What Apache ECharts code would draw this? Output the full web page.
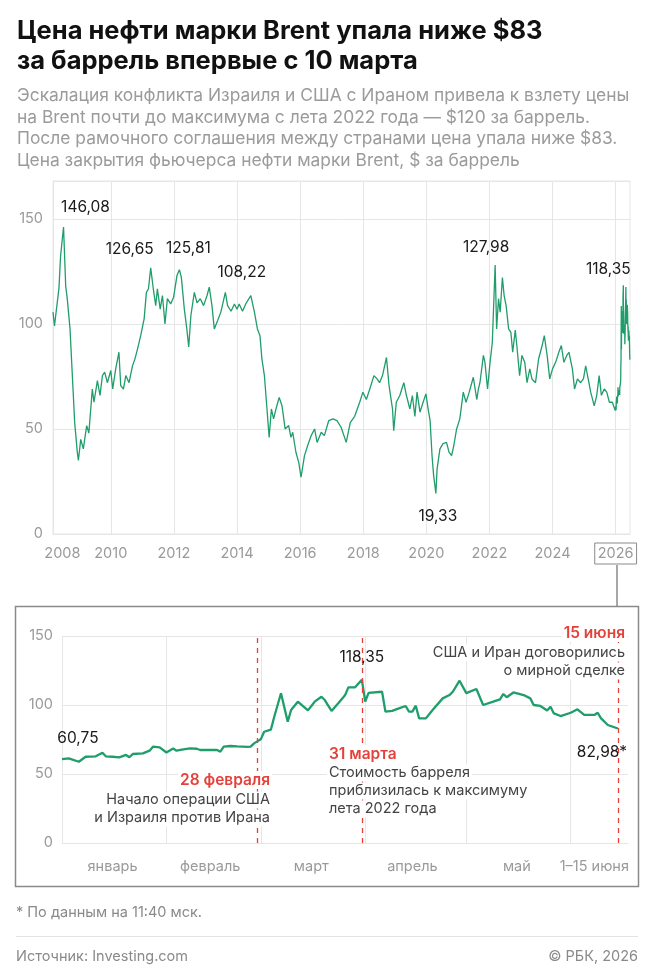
<!DOCTYPE html>
<html>
<head>
<meta charset="utf-8">
<title>Brent</title>
<script src="https://cdn.jsdelivr.net/npm/echarts@6/dist/echarts.min.js"></script>
<style>
html, body { margin: 0; padding: 0; background: #fff; }
#chart { width: 654px; height: 977px; }
</style>
</head>
<body>
<div id="chart"></div>
<script>
// Brent close, $ per barrel, 2008-2025
var brentHistory = [
    ['2008-03-03', 105.6], ['2008-03-20', 99], ['2008-05-11', 117], ['2008-05-30', 132.5],
    ['2008-07-03', 146.08], ['2008-07-28', 118], ['2008-08-15', 112], ['2008-09-16', 97.6],
    ['2008-10-11', 77], ['2008-11-09', 53], ['2008-12-09', 39], ['2008-12-22', 35],
    ['2009-01-18', 45], ['2009-02-17', 40.5], ['2009-03-28', 51.6], ['2009-04-22', 48],
    ['2009-06-01', 69], ['2009-06-20', 62.7], ['2009-07-30', 73], ['2009-08-29', 66],
    ['2009-09-26', 75.4], ['2009-10-22', 77], ['2009-11-22', 72], ['2010-01-01', 77.8],
    ['2010-01-23', 69], ['2010-02-27', 78.6], ['2010-04-05', 86.5], ['2010-04-26', 70.6],
    ['2010-05-27', 69], ['2010-06-24', 75.4], ['2010-07-31', 72], ['2010-09-09', 80],
    ['2010-10-05', 83], ['2010-11-06', 88], ['2010-12-13', 94.4], ['2011-01-22', 102.4],
    ['2011-02-17', 115], ['2011-03-13', 116.7], ['2011-04-08', 126.65], ['2011-05-08', 116.7],
    ['2011-06-05', 108.7], ['2011-06-24', 116.7], ['2011-07-27', 107], ['2011-08-22', 113.5],
    ['2011-09-20', 100], ['2011-10-18', 112], ['2011-11-25', 109.5], ['2011-12-29', 112.7],
    ['2012-02-06', 123], ['2012-03-05', 125.81], ['2012-03-28', 122], ['2012-05-01', 107],
    ['2012-05-30', 97.6], ['2012-06-21', 89], ['2012-07-16', 104], ['2012-08-25', 115],
    ['2012-09-25', 110], ['2012-11-02', 112], ['2012-12-10', 108.7], ['2013-01-19', 113.5],
    ['2013-02-14', 117.5], ['2013-03-17', 108.7], ['2013-04-13', 97.6], ['2013-05-22', 101.6],
    ['2013-06-28', 105.6], ['2013-08-19', 115], ['2013-09-14', 108.7], ['2013-10-24', 106],
    ['2013-12-02', 109.5], ['2014-01-01', 107], ['2014-01-26', 109.5], ['2014-03-06', 106],
    ['2014-04-12', 109.5], ['2014-06-10', 113.5], ['2014-07-20', 106], ['2014-08-25', 97.6],
    ['2014-09-24', 94.4], ['2014-10-16', 83.3], ['2014-11-14', 75.4], ['2014-12-14', 59.5],
    ['2015-01-08', 46], ['2015-02-03', 59.5], ['2015-02-28', 54.8], ['2015-03-28', 59.5],
    ['2015-05-04', 65], ['2015-06-06', 61], ['2015-07-12', 50], ['2015-08-22', 51.6],
    ['2015-09-17', 46], ['2015-10-08', 48.4], ['2015-11-14', 38.9], ['2015-12-17', 34],
    ['2016-01-12', 27], ['2016-02-21', 37.3], ['2016-03-28', 42], ['2016-05-08', 46.8],
    ['2016-06-17', 50], ['2016-07-16', 43.6], ['2016-09-02', 48.4], ['2016-10-08', 46.8],
    ['2016-11-28', 54], ['2017-01-16', 54.8], ['2017-03-03', 54], ['2017-04-20', 50.8],
    ['2017-06-18', 43.6], ['2017-08-04', 53], ['2017-09-24', 56], ['2017-11-21', 62.7],
    ['2017-12-28', 67.5], ['2018-02-06', 64], ['2018-03-18', 69], ['2018-05-05', 75.4],
    ['2018-06-10', 73.8], ['2018-07-09', 72], ['2018-08-12', 75.4], ['2018-09-27', 84],
    ['2018-10-27', 70.6], ['2018-12-06', 59.5], ['2018-12-20', 49.2], ['2019-01-19', 62.7],
    ['2019-02-28', 65.9], ['2019-04-16', 72], ['2019-05-16', 65.9], ['2019-06-25', 59.5],
    ['2019-07-24', 65.9], ['2019-08-22', 56], ['2019-09-16', 67.5], ['2019-10-20', 58],
    ['2019-11-25', 62.7], ['2019-12-28', 66.7], ['2020-01-22', 59.5], ['2020-02-14', 54],
    ['2020-03-08', 37], ['2020-03-26', 27.8], ['2020-04-21', 19.33], ['2020-05-05', 31],
    ['2020-06-07', 40.5], ['2020-07-13', 43], ['2020-08-22', 43.6], ['2020-09-20', 39],
    ['2020-10-20', 37.3], ['2020-11-14', 42], ['2020-12-17', 50], ['2021-01-23', 54.8],
    ['2021-03-04', 67.5], ['2021-04-05', 62.7], ['2021-05-12', 67.5], ['2021-06-28', 74.6],
    ['2021-08-08', 64], ['2021-08-26', 69], ['2021-09-13', 72], ['2021-10-23', 85],
    ['2021-11-10', 81.7], ['2021-12-10', 69], ['2022-01-08', 81.7], ['2022-02-03', 91],
    ['2022-03-08', 127.98], ['2022-03-25', 97.6], ['2022-04-16', 112], ['2022-05-05', 105.6],
    ['2022-05-31', 122], ['2022-06-20', 113.5], ['2022-07-13', 108.7], ['2022-08-11', 97.6],
    ['2022-09-06', 96], ['2022-09-27', 86.5], ['2022-10-27', 97], ['2022-11-14', 89.7],
    ['2022-12-16', 75.4], ['2023-01-12', 85], ['2023-02-14', 81.7], ['2023-03-12', 72],
    ['2023-04-13', 78.6], ['2023-05-08', 73.8], ['2023-06-18', 72], ['2023-07-24', 83.3],
    ['2023-09-03', 89.7], ['2023-09-28', 94.4], ['2023-10-31', 85], ['2023-11-30', 73.8],
    ['2024-01-01', 78.6], ['2024-02-06', 81.7], ['2024-03-14', 86.5], ['2024-04-12', 89.7],
    ['2024-05-12', 81.7], ['2024-06-14', 85], ['2024-07-09', 86.5], ['2024-08-18', 78.6],
    ['2024-09-12', 69], ['2024-10-16', 73.8], ['2024-11-21', 72], ['2024-12-24', 73.8],
    ['2025-01-19', 80], ['2025-02-17', 73.8], ['2025-03-18', 67.5], ['2025-04-28', 61],
    ['2025-05-27', 66], ['2025-06-24', 75.4], ['2025-07-20', 66], ['2025-08-22', 69],
    ['2025-09-20', 67.5], ['2025-10-20', 62.7], ['2025-11-24', 62.7], ['2025-12-27', 58.7]
];

// 1 January - 15 June 2026
var brent2026 = [
    ['2026-01-01', 60.75], ['2026-01-03', 61.3], ['2026-01-06', 58.9], ['2026-01-08', 62.5],
    ['2026-01-11', 62.8], ['2026-01-13', 65.4], ['2026-01-14', 62.8], ['2026-01-16', 62.5],
    ['2026-01-18', 62.1], ['2026-01-20', 63.8], ['2026-01-21', 62.1], ['2026-01-22', 64.5],
    ['2026-01-25', 64.9], ['2026-01-27', 66.9], ['2026-01-28', 69.8], ['2026-01-30', 69.3],
    ['2026-02-01', 65.6], ['2026-02-03', 68.5], ['2026-02-04', 66.9], ['2026-02-06', 67.9],
    ['2026-02-08', 68.5], ['2026-02-10', 68.3], ['2026-02-11', 67.4], ['2026-02-13', 67.4],
    ['2026-02-16', 67.4], ['2026-02-17', 66.2], ['2026-02-18', 69.8], ['2026-02-20', 70.3],
    ['2026-02-22', 70], ['2026-02-25', 69.6], ['2026-02-26', 69.8], ['2026-02-27', 72.2],
    ['2026-03-01', 75.1], ['2026-03-02', 80.6], ['2026-03-04', 82.1], ['2026-03-05', 91.5],
    ['2026-03-07', 108.5], ['2026-03-09', 87.9], ['2026-03-10', 96.4], ['2026-03-12', 102.4],
    ['2026-03-15', 96.1], ['2026-03-17', 102.4], ['2026-03-19', 106], ['2026-03-20', 103.6],
    ['2026-03-22', 95.7], ['2026-03-24', 101.2], ['2026-03-26', 107], ['2026-03-27', 112.8],
    ['2026-03-29', 112.8], ['2026-03-31', 118.35], ['2026-04-01', 102.4], ['2026-04-02', 108.8],
    ['2026-04-06', 109.6], ['2026-04-07', 95.2], ['2026-04-09', 95.7], ['2026-04-11', 97.6],
    ['2026-04-13', 99.3], ['2026-04-14', 95.2], ['2026-04-15', 95.2], ['2026-04-16', 99.5],
    ['2026-04-17', 90.3], ['2026-04-19', 90.3], ['2026-04-21', 96.4], ['2026-04-24', 104.8],
    ['2026-04-26', 107.2], ['2026-04-27', 109.6], ['2026-04-29', 117.6], ['2026-05-01', 108.6],
    ['2026-05-04', 111.6], ['2026-05-06', 100], ['2026-05-09', 102.4], ['2026-05-11', 104.1],
    ['2026-05-12', 108], ['2026-05-13', 105.6], ['2026-05-15', 109.1], ['2026-05-18', 107.2],
    ['2026-05-20', 104.8], ['2026-05-21', 100], ['2026-05-23', 99.3], ['2026-05-25', 96],
    ['2026-05-26', 98.8], ['2026-05-27', 93.9], ['2026-05-29', 92], ['2026-06-01', 94.4],
    ['2026-06-03', 96.9], ['2026-06-05', 92.8], ['2026-06-08', 92.8], ['2026-06-09', 94.4],
    ['2026-06-10', 90.3], ['2026-06-12', 85.5], ['2026-06-15', 82.98]
];

// labelled points: date, price, text
var topPeaks = [
    ['2008-07-03', 146.08, '146,08'],
    ['2011-04-08', 126.65, '126,65'],
    ['2012-03-05', 125.81, '125,81'],
    ['2014-06-10', 113.5, '108,22'],
    ['2022-03-08', 127.98, '127,98'],
    ['2026-03-31', 118.35, '118,35'],
    ['2020-04-21', 19.33, '19,33']
];
var insetPeaks = [
    ['2026-01-01', 60.75, '60,75'],
    ['2026-03-31', 118.35, '118,35'],
    ['2026-06-15', 82.98, '82,98*']
];

var yearLabelDates = ['2008-06-20', '2010-01-01', '2012-01-01', '2014-01-01', '2016-01-01',
    '2018-01-01', '2020-01-01', '2022-01-01', '2024-01-01', '2026-01-01'];
var yearGridDates = ['2010-01-01', '2012-01-01', '2014-01-01', '2016-01-01',
    '2018-01-01', '2020-01-01', '2022-01-01', '2024-01-01', '2026-01-01'];
var monthGridDates = ['2026-02-01', '2026-03-01', '2026-04-01', '2026-05-01', '2026-06-01'];
var monthLabels = ['январь', 'февраль', 'март', 'апрель', 'май', '1–15 июня'];
var monthLabelDates = ['2026-01-16', '2026-02-14', '2026-03-16', '2026-04-15', '2026-05-16', '2026-06-08'];
var eventDates = ['2026-02-28', '2026-03-31', '2026-06-15'];

var FONT = 'Inter, Roboto, sans-serif';
var GREEN = '#1f9d6b';
var RED = '#e5413b';
var GRID = '#e6e6e6';
var AXIS_TXT = '#9a9a9a';

var topOffsets = [[22, -20], [-21, -19], [9, -21], [-9, -23], [-9, -18], [-15, -16], [2, 23]];
var insetOffsets = [[16, -21], [0, -22], [-16, 24]];

// date string -> ms (UTC)
function ts(d) {
    return Date.parse(d);
}

function toXY(list) {
    var arr = [];
    for (var i = 0; i < list.length; i++) {
        arr.push([ts(list[i][0]), list[i][1]]);
    }
    return arr;
}

function peakPoints(list, offsets) {
    var arr = [];
    for (var i = 0; i < list.length; i++) {
        arr.push({
            name: list[i][2],
            coord: [ts(list[i][0]), list[i][1]],
            label: { offset: offsets[i] }
        });
    }
    return arr;
}

function vLines(dates, style) {
    var arr = [];
    for (var i = 0; i < dates.length; i++) {
        arr.push({ xAxis: ts(dates[i]), lineStyle: style });
    }
    return arr;
}

function note(x, y, text, color, weight, align) {
    return {
        type: 'text', x: x, y: y, z: 100,
        style: {
            text: text, fill: color, align: align, verticalAlign: 'middle',
            fontFamily: FONT, fontSize: weight === 'bold' ? 15.5 : 14.5, fontWeight: weight === 'bold' ? 600 : 400,
            backgroundColor: '#fff', padding: [1, 2]
        }
    };
}

var myChart = echarts.init(document.getElementById('chart'));

var peakLabel = {
    show: true, position: 'inside', formatter: '{b}',
    color: '#1a1a1a', fontSize: 15.5, fontFamily: FONT
};

var option = {
    animation: false,
    title: [{
        text: 'Цена нефти марки Brent упала ниже $83\nза баррель впервые с 10 марта',
        subtext: 'Эскалация конфликта Израиля и США с Ираном привела к взлету цены\n' +
            'на Brent почти до максимума с лета 2022 года — $120 за баррель.\n' +
            'После рамочного соглашения между странами цена упала ниже $83.\n' +
            'Цена закрытия фьючерса нефти марки Brent, $ за баррель',
        left: 12, top: 11,
        itemGap: 9,
        textStyle: { fontFamily: FONT, fontSize: 25.5, fontWeight: 700, lineHeight: 30, color: '#111' },
        subtextStyle: { fontFamily: FONT, fontSize: 17.4, lineHeight: 21.7, color: '#9b9b9b' }
    }],
    grid: [
        { left: 53, right: 24, top: 181, bottom: 443, show: true, borderColor: GRID, borderWidth: 1 },
        { left: 62, right: 26, top: 636, bottom: 134 }
    ],
    xAxis: [{
        type: 'value', gridIndex: 0,
        min: ts('2008-03-03'), max: ts('2026-06-16'),
        axisLine: { show: true, lineStyle: { color: GRID } },
        axisTick: { show: false },
        splitLine: { show: false },
        axisLabel: {
            customValues: yearLabelDates.map(ts),
            margin: 9,
            formatter: function (v) {
                var y = new Date(v).getUTCFullYear();
                return y === 2026 ? '{b|' + y + '}' : '{a|' + y + '}';
            },
            rich: {
                a: { color: AXIS_TXT, fontSize: 14.5, fontFamily: FONT, padding: [3, 3] },
                b: { color: AXIS_TXT, fontSize: 14.5, fontFamily: FONT, padding: [3, 3],
                    borderColor: '#8a8a8a', borderWidth: 1 }
            }
        }
    }, {
        type: 'value', gridIndex: 1,
        min: ts('2026-01-01'), max: ts('2026-06-18'),
        axisLine: { show: true, lineStyle: { color: GRID } },
        axisTick: { show: false },
        splitLine: { show: false },
        axisLabel: {
            customValues: monthLabelDates.map(ts),
            margin: 16,
            color: AXIS_TXT, fontSize: 14.5, fontFamily: FONT,
            formatter: function (v) {
                return monthLabels[new Date(v).getUTCMonth()];
            }
        }
    }],
    yAxis: [{
        type: 'value', gridIndex: 0,
        min: 0, max: 168, interval: 50,
        axisLine: { show: true, lineStyle: { color: GRID } },
        axisTick: { show: false },
        splitLine: { lineStyle: { color: GRID } },
        axisLabel: {
            margin: 10, color: AXIS_TXT, fontSize: 14.5, fontFamily: FONT,
            formatter: function (v) { return v % 50 === 0 ? v : ''; }
        }
    }, {
        type: 'value', gridIndex: 1,
        min: 0, max: 150, interval: 50,
        axisLine: { show: true, lineStyle: { color: GRID } },
        axisTick: { show: false },
        splitLine: { lineStyle: { color: GRID } },
        axisLabel: { margin: 9, color: AXIS_TXT, fontSize: 14.5, fontFamily: FONT }
    }],
    series: [{
        type: 'line', xAxisIndex: 0, yAxisIndex: 0,
        data: toXY(brentHistory.concat(brent2026)),
        showSymbol: false, z: 3,
        lineStyle: { color: GREEN, width: 1.3 },
        markLine: {
            silent: true, symbol: 'none', z: 1,
            label: { show: false },
            data: vLines(yearGridDates, { color: GRID, width: 1, type: 'solid' })
        },
        markPoint: {
            symbol: 'circle', symbolSize: 1, silent: true, z: 10,
            itemStyle: { color: 'rgba(0,0,0,0)' },
            label: peakLabel,
            data: peakPoints(topPeaks, topOffsets)
        }
    }, {
        type: 'line', xAxisIndex: 1, yAxisIndex: 1,
        data: toXY(brent2026),
        showSymbol: false, z: 3,
        lineStyle: { color: GREEN, width: 2.3 },
        markLine: {
            silent: true, symbol: 'none', z: 1,
            label: { show: false },
            data: vLines(monthGridDates, { color: GRID, width: 1, type: 'solid' })
        },
        markPoint: {
            symbol: 'circle', symbolSize: 1, silent: true, z: 10,
            itemStyle: { color: 'rgba(0,0,0,0)' },
            label: peakLabel,
            data: peakPoints(insetPeaks, insetOffsets)
        }
    }, {
        type: 'line', xAxisIndex: 1, yAxisIndex: 1,
        data: [],
        markLine: {
            silent: true, symbol: 'none', z: 4,
            label: { show: false },
            data: vLines(eventDates, { color: RED, width: 1.3, type: [5, 5] })
        }
    }],
    graphic: [
        { type: 'rect', z: 0, shape: { x: 15.5, y: 606.5, width: 623, height: 280 },
            style: { fill: 'none', stroke: '#8a8a8a', lineWidth: 1.5 } },
        { type: 'line', z: 0, shape: { x1: 617, y1: 565, x2: 617, y2: 606 },
            style: { stroke: '#8a8a8a', lineWidth: 1.5 } },
        note(272, 780, '28 февраля', RED, 'bold', 'right'),
        note(272, 800, 'Начало операции США', '#444', 'normal', 'right'),
        note(272, 818, 'и Израиля против Ирана', '#444', 'normal', 'right'),
        note(327, 754, '31 марта', RED, 'bold', 'left'),
        note(327, 773, 'Стоимость барреля', '#444', 'normal', 'left'),
        note(327, 791, 'приблизилась к максимуму', '#444', 'normal', 'left'),
        note(327, 809, 'лета 2022 года', '#444', 'normal', 'left'),
        note(627, 633, '15 июня', RED, 'bold', 'right'),
        note(627, 653, 'США и Иран договорились', '#444', 'normal', 'right'),
        note(627, 671, 'о мирной сделке', '#444', 'normal', 'right'),
        { type: 'text', x: 16, y: 913, style: { text: '* По данным на 11:40 мск.', fill: '#8a8a8a',
            fontFamily: FONT, fontSize: 14.5, verticalAlign: 'middle' } },
        { type: 'line', shape: { x1: 16, y1: 936.5, x2: 638, y2: 936.5 },
            style: { stroke: '#e3e3e3', lineWidth: 1 } },
        { type: 'text', x: 16, y: 957, style: { text: 'Источник: Investing.com', fill: '#8a8a8a',
            fontFamily: FONT, fontSize: 14.5, verticalAlign: 'middle' } },
        { type: 'text', x: 638, y: 957, style: { text: '© РБК, 2026', fill: '#8a8a8a',
            fontFamily: FONT, fontSize: 14.5, align: 'right', verticalAlign: 'middle' } }
    ]
};

myChart.setOption(option, true);
</script>
</body>
</html>
